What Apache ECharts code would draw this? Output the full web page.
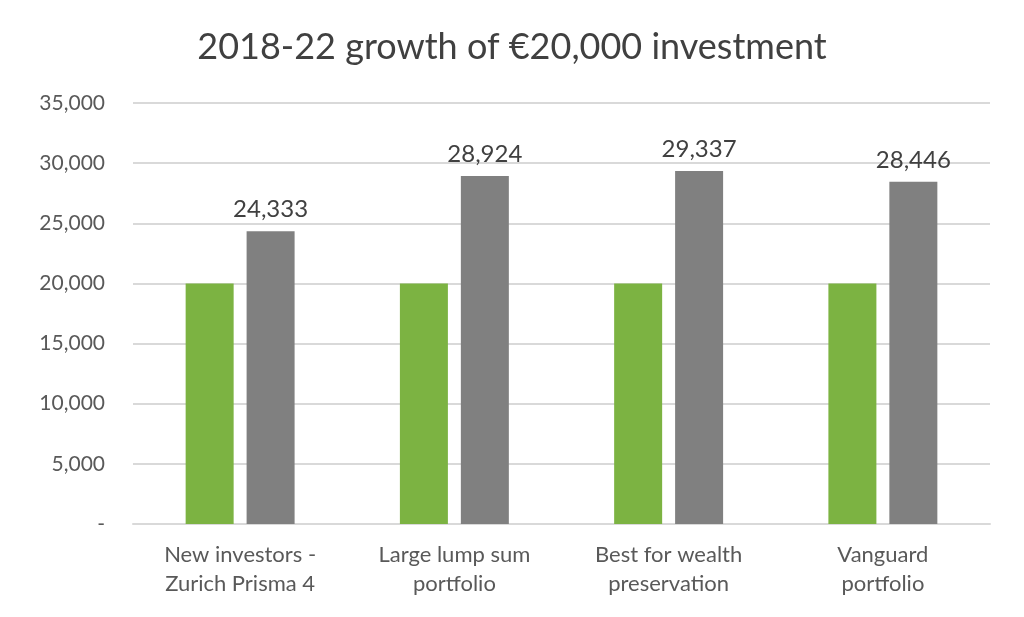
<!DOCTYPE html>
<html>
<head>
<meta charset="utf-8">
<script src="https://cdn.jsdelivr.net/npm/echarts@6/dist/echarts.min.js"></script>
<style>
  html, body { margin: 0; padding: 0; background: #fff; }
  #chart { width: 1024px; height: 617px; }
</style>
</head>
<body>
<div id="chart"></div>
<script>
// categories (x axis)
var categories = [
    'New investors -\nZurich Prisma 4',
    'Large lump sum\nportfolio',
    'Best for wealth\npreservation',
    'Vanguard\nportfolio'
];
// initial investment and grown value
var invested = [20000, 20000, 20000, 20000];
var grown = [24333, 28924, 29337, 28446];

var fontName = 'Lato, "Open Sans", sans-serif';

function fmt(v) {
    if (v === 0) return '-';
    return v.toString().replace(/\B(?=(\d{3})+(?!\d))/g, ',');
}

var myChart = echarts.init(document.getElementById('chart'));
var option = {
    animation: false,
    title: {
        text: '2018-22 growth of €20,000 investment',
        left: 'center',
        top: 24,
        textStyle: {
            fontFamily: fontName,
            fontSize: 36,
            fontWeight: 'normal',
            color: '#404040'
        }
    },
    grid: {
        left: 133,
        right: 34,
        top: 103,
        bottom: 93
    },
    xAxis: {
        type: 'category',
        data: categories,
        axisLine: { lineStyle: { color: '#d9d9d9', width: 2 } },
        axisTick: { show: false },
        axisLabel: {
            fontFamily: fontName,
            fontSize: 22,
            color: '#595959',
            lineHeight: 29,
            margin: 16
        }
    },
    yAxis: {
        type: 'value',
        min: 0,
        max: 35000,
        interval: 5000,
        axisLine: { show: false },
        axisTick: { show: false },
        splitLine: { lineStyle: { color: '#d9d9d9', width: 2 } },
        axisLabel: {
            fontFamily: fontName,
            fontSize: 21,
            color: '#595959',
            margin: 28,
            formatter: fmt
        }
    },
    series: [
        {
            name: 'Invested',
            type: 'bar',
            barWidth: 48,
            barGap: '27%',
            data: invested,
            itemStyle: { color: '#7cb342' }
        },
        {
            name: 'Value',
            type: 'bar',
            barWidth: 48,
            data: grown,
            itemStyle: { color: '#808080' },
            label: {
                show: true,
                position: 'top',
                distance: 10,
                fontFamily: fontName,
                fontSize: 24,
                color: '#404040',
                formatter: function (p) { return fmt(p.value); }
            }
        }
    ]
};
myChart.setOption(option);
</script>
</body>
</html>
